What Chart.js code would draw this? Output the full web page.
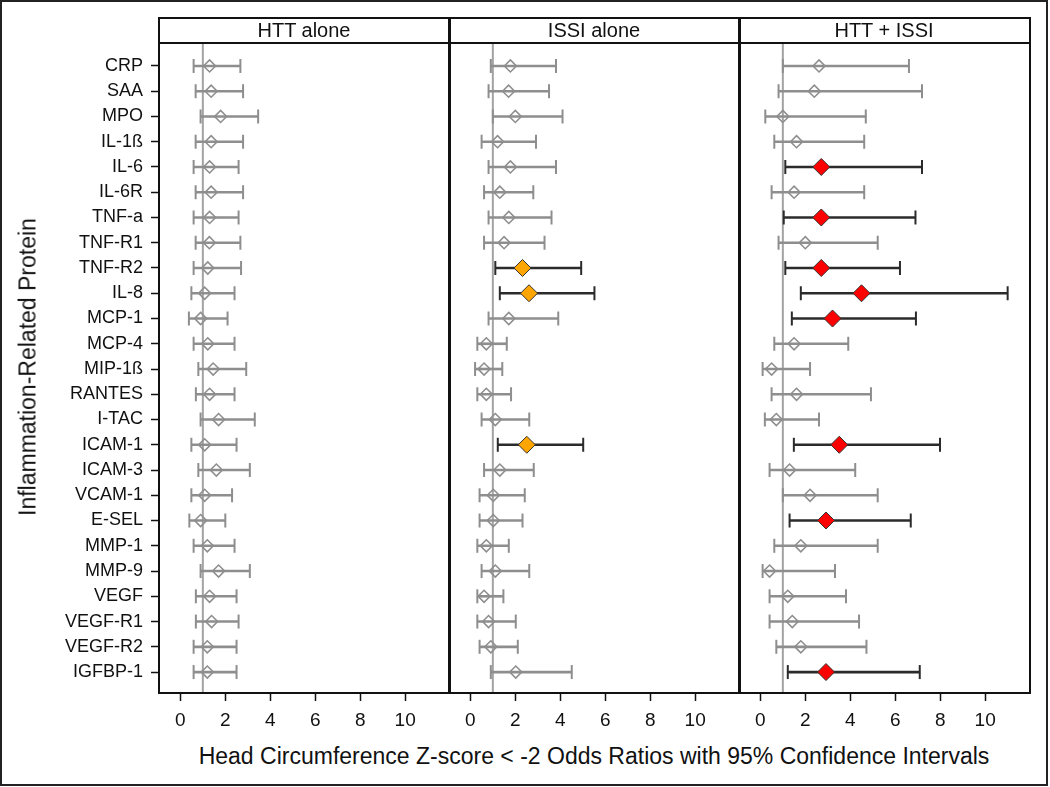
<!DOCTYPE html>
<html>
<head>
<meta charset="utf-8">
<script src="https://cdn.jsdelivr.net/npm/chart.js@4"></script>
<style>
	body { margin: 0; background: #fff; font-family: "Liberation Sans", Arial, sans-serif; color: #111; }
	#wrap { position: relative; width: 1050px; height: 787px; overflow: hidden; }
	#outer { position: absolute; left: 0; top: 0; width: 1048px; height: 786px; border: 2px solid #222; box-sizing: border-box; }
	canvas { position: absolute; top: 44px; }
	.frame { position: absolute; top: 17px; height: 677px; width: 293px; border: 2px solid #111; box-sizing: border-box; pointer-events: none; }
	.head { position: absolute; top: 18px; height: 26px; width: 290px; border-bottom: 2px solid #111; box-sizing: border-box; text-align: center; font-size: 20px; line-height: 25px; }
	#ytitle { position: absolute; left: 28px; top: 367px; transform: translate(-50%, -50%) rotate(-90deg); white-space: nowrap; font-size: 23px; }
	#xtitle { position: absolute; left: 594px; top: 756px; transform: translate(-50%, -50%); white-space: nowrap; font-size: 23px; }
</style>
</head>
<body>
<div id="wrap">
	<div id="outer"></div>
	<canvas id="c1" width="449" height="698" style="left:0px"></canvas>
	<canvas id="c2" width="290" height="698" style="left:449px"></canvas>
	<canvas id="c3" width="290" height="698" style="left:739px"></canvas>
	<div class="frame" style="left:158px"></div>
	<div class="frame" style="left:448px"></div>
	<div class="frame" style="left:738px"></div>
	<div class="head" style="left:159px">HTT alone</div>
	<div class="head" style="left:449px">ISSI alone</div>
	<div class="head" style="left:739px">HTT + ISSI</div>
	<div id="ytitle">Inflammation-Related Protein</div>
	<div id="xtitle">Head Circumference Z-score &lt; -2 Odds Ratios with 95% Confidence Intervals</div>
</div>
<script>
// ---- data ----
const proteins = ["CRP", "SAA", "MPO", "IL-1ß", "IL-6", "IL-6R", "TNF-a", "TNF-R1", "TNF-R2", "IL-8", "MCP-1", "MCP-4", "MIP-1ß", "RANTES", "I-TAC", "ICAM-1", "ICAM-3", "VCAM-1", "E-SEL", "MMP-1", "MMP-9", "VEGF", "VEGF-R1", "VEGF-R2", "IGFBP-1"];

const httOr = [1.30, 1.37, 1.79, 1.37, 1.30, 1.37, 1.30, 1.29, 1.22, 1.08, 0.90, 1.22, 1.46, 1.30, 1.70, 1.08, 1.60, 1.08, 0.90, 1.20, 1.70, 1.30, 1.39, 1.20, 1.20];
const httLo = [0.59, 0.68, 0.90, 0.68, 0.59, 0.68, 0.59, 0.68, 0.59, 0.49, 0.38, 0.59, 0.80, 0.69, 0.90, 0.49, 0.80, 0.49, 0.40, 0.59, 0.90, 0.69, 0.69, 0.59, 0.59];
const httHi = [2.67, 2.79, 3.46, 2.79, 2.59, 2.79, 2.59, 2.67, 2.70, 2.41, 2.10, 2.41, 2.93, 2.41, 3.31, 2.50, 3.09, 2.30, 2.00, 2.41, 3.09, 2.50, 2.59, 2.50, 2.50];

const issiOr = [1.78, 1.70, 2.00, 1.21, 1.78, 1.31, 1.71, 1.50, 2.32, 2.61, 1.71, 0.71, 0.61, 0.71, 1.11, 2.51, 1.31, 1.02, 1.02, 0.71, 1.11, 0.61, 0.81, 0.91, 2.02];
const issiLo = [0.91, 0.81, 1.00, 0.50, 0.81, 0.61, 0.81, 0.61, 1.11, 1.31, 0.81, 0.31, 0.21, 0.31, 0.50, 1.22, 0.61, 0.41, 0.41, 0.31, 0.50, 0.31, 0.31, 0.41, 0.91];
const issiHi = [3.81, 3.50, 4.10, 2.92, 3.81, 2.80, 3.61, 3.30, 4.93, 5.52, 3.91, 1.62, 1.42, 1.81, 2.62, 5.02, 2.82, 2.42, 2.32, 1.71, 2.62, 1.47, 2.02, 2.11, 4.51];

const bothOr = [2.61, 2.40, 1.00, 1.61, 2.71, 1.50, 2.71, 2.00, 2.71, 4.50, 3.21, 1.50, 0.50, 1.61, 0.71, 3.51, 1.30, 2.21, 2.92, 1.80, 0.41, 1.22, 1.42, 1.80, 2.92];
const bothLo = [1.00, 0.81, 0.22, 0.62, 1.11, 0.50, 1.04, 0.81, 1.11, 1.80, 1.40, 0.62, 0.10, 0.50, 0.20, 1.49, 0.41, 1.00, 1.30, 0.62, 0.10, 0.41, 0.41, 0.71, 1.22];
const bothHi = [6.61, 7.19, 4.69, 4.62, 7.19, 4.62, 6.90, 5.22, 6.21, 11.00, 6.92, 3.91, 2.21, 4.92, 2.61, 7.99, 4.22, 5.22, 6.69, 5.22, 3.32, 3.81, 4.39, 4.72, 7.09];

// significant rows (filled markers)
const issiSig = ["TNF-R2", "IL-8", "ICAM-1"];
const bothSig = ["IL-6", "TNF-a", "TNF-R2", "IL-8", "MCP-1", "ICAM-1", "E-SEL", "IGFBP-1"];

const xTicks = [0, 2, 4, 6, 8, 10];
const refOr = 1;

// ---- look ----
const FONT = "'Liberation Sans', Arial, sans-serif";
const GRAY = "#8e8e8e";
const DARK = "#2b2b2b";
const REF = "#a3a3a3";
const X_MIN = -0.95, X_MAX = 11.95;
const Y_MIN = -0.87, Y_MAX = 24.79;

function makePanel(id, or, lo, hi, sig, sigColor, showLabels) {
	const isSig = proteins.map((p) => sig.includes(p));
	const lineCol = isSig.map((s) => (s ? DARK : GRAY));

	new Chart(document.getElementById(id), {
		type: "scatter",
		data: {
			datasets: [
				{
					// odds ratio
					data: or.map((v, i) => ({ x: v, y: i })),
					pointStyle: "rectRot",
					pointRadius: isSig.map((s) => (s ? 8.5 : 6)),
					pointBackgroundColor: isSig.map((s) => (s ? sigColor : "rgba(0,0,0,0)")),
					pointBorderColor: isSig.map((s) => (s ? "#333" : GRAY)),
					pointBorderWidth: isSig.map((s) => (s ? 1 : 1.6)),
					order: 0,
				},
				{
					// caps of the CI
					data: [...lo.map((v, i) => ({ x: v, y: i })), ...hi.map((v, i) => ({ x: v, y: i }))],
					pointStyle: "line",
					pointRotation: 90,
					pointRadius: 7,
					pointBorderColor: [...lineCol, ...lineCol],
					pointBorderWidth: 2,
					order: 1,
				},
				{
					// CI line
					type: "bar",
					indexAxis: "y",
					data: lo.map((v, i) => ({ x: [v, hi[i]], y: i })),
					backgroundColor: lineCol,
					borderWidth: 0,
					barThickness: 2,
					order: 2,
				},
				{
					// OR = 1
					type: "line",
					data: [{ x: refOr, y: Y_MIN }, { x: refOr, y: Y_MAX }],
					borderColor: REF,
					borderWidth: 2,
					pointRadius: 0,
					order: 3,
				},
			],
		},
		options: {
			responsive: false,
			animation: false,
			events: [],
			layout: { padding: 0, autoPadding: false },
			plugins: { legend: { display: false }, tooltip: { enabled: false } },
			scales: {
				x: {
					type: "linear",
					min: X_MIN,
					max: X_MAX,
					offset: false,
					afterBuildTicks: (s) => { s.ticks = xTicks.map((v) => ({ value: v })); },
					afterFit: (s) => { s.height = 50; s.paddingLeft = 0; s.paddingRight = 0; },
					grid: { drawOnChartArea: false, offset: false, tickLength: 9, tickColor: "#111", tickWidth: 1.5 },
					border: { display: false },
					ticks: { font: { family: FONT, size: 19 }, color: "#111", padding: 8, maxRotation: 0 },
				},
				y: {
					type: "linear",
					reverse: true,
					min: Y_MIN,
					max: Y_MAX,
					offset: false,
					display: showLabels,
					afterBuildTicks: (s) => { s.ticks = proteins.map((p, i) => ({ value: i })); },
					afterFit: (s) => { s.width = showLabels ? 159 : 0; s.paddingTop = 0; s.paddingBottom = 0; },
					grid: { drawOnChartArea: false, offset: false, tickLength: 8, tickColor: "#111", tickWidth: 1.5 },
					border: { display: false },
					ticks: { callback: (v) => proteins[v], autoSkip: false, font: { family: FONT, size: 18 }, color: "#111", padding: 8 },
				},
			},
		},
	});
}

makePanel("c1", httOr, httLo, httHi, [], GRAY, true);
makePanel("c2", issiOr, issiLo, issiHi, issiSig, "#ffa500", false);
makePanel("c3", bothOr, bothLo, bothHi, bothSig, "#ff0000", false);
</script>
</body>
</html>
